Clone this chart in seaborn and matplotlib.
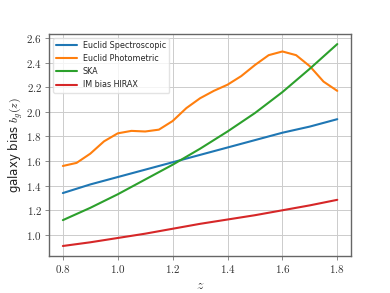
import pandas as pd
import matplotlib
import matplotlib.pyplot as plt
import seaborn as sns
from matplotlib.ticker import FuncFormatter

matplotlib.use('Agg')

# redshift grids
z_coarse = [0.8, 0.9, 1.0, 1.1, 1.2, 1.3, 1.4, 1.5, 1.6, 1.7, 1.8]
z_fine = [0.8, 0.85, 0.9, 0.95, 1.0, 1.05, 1.1, 1.15, 1.2, 1.25, 1.3,
          1.35, 1.4, 1.45, 1.5, 1.55, 1.6, 1.65, 1.7, 1.75, 1.8]

# bias values
b_euclid_spec = [1.34, 1.41, 1.47, 1.53, 1.59, 1.65, 1.71, 1.77, 1.83, 1.88, 1.94]
b_euclid_phot = [1.56, 1.585, 1.66, 1.76, 1.825, 1.845, 1.84, 1.855, 1.925, 2.03, 2.11,
                 2.17, 2.22, 2.29, 2.38, 2.46, 2.49, 2.46, 2.37, 2.245, 2.17]
b_ska = [1.12, 1.22, 1.33, 1.45, 1.57, 1.70, 1.84, 1.99, 2.16, 2.35, 2.55]
b_hirax = [0.91, 0.94, 0.975, 1.01, 1.05, 1.09, 1.125, 1.16, 1.20, 1.24, 1.285]

labels = ['Euclid Spectroscopic', 'Euclid Photometric', 'SKA', 'IM bias HIRAX']

frames = [
    pd.DataFrame({'z': z_coarse, 'b': b_euclid_spec, 'survey': labels[0]}),
    pd.DataFrame({'z': z_fine, 'b': b_euclid_phot, 'survey': labels[1]}),
    pd.DataFrame({'z': z_coarse, 'b': b_ska, 'survey': labels[2]}),
    pd.DataFrame({'z': z_coarse, 'b': b_hirax, 'survey': labels[3]}),
]
df = pd.concat(frames, ignore_index=True)

sns.set_style('whitegrid', {'grid.color': '#cccccc', 'axes.edgecolor': '#666666',
                            'xtick.bottom': True, 'ytick.left': True,
                            'xtick.color': '#777777', 'ytick.color': '#777777'})
plt.rcParams['mathtext.fontset'] = 'cm'
plt.rcParams['font.family'] = ['DejaVu Sans']

fig = plt.figure(figsize=(3.9, 2.93), dpi=100)
ax = fig.add_axes([0.126, 0.126, 0.774, 0.758])

sns.lineplot(data=df, x='z', y='b', hue='survey', hue_order=labels,
             palette=['#1f77b4', '#ff7f0e', '#2ca02c', '#d62728'],
             linewidth=1.5, ax=ax)

ax.set_xticks([0.8, 1.0, 1.2, 1.4, 1.6, 1.8])
ax.set_yticks([1.0, 1.2, 1.4, 1.6, 1.8, 2.0, 2.2, 2.4, 2.6])
fmt = FuncFormatter(lambda v, p: f'${v:.1f}$')
ax.xaxis.set_major_formatter(fmt)
ax.yaxis.set_major_formatter(fmt)
ax.tick_params(labelsize=8, labelcolor='#333333', length=3, width=0.6, pad=2)
for s in ax.spines.values():
    s.set_linewidth(1.0)
ax.grid(linewidth=0.7)

ax.set_xlabel('$z$', fontsize=10, color='#333333', labelpad=2)
ax.set_ylabel('galaxy bias $b_{g}(z)$', fontsize=8.5, color='#222222', labelpad=1)

leg = ax.legend(loc='upper left', fontsize=5.8, frameon=True, handlelength=2.5)
leg.get_frame().set_edgecolor('#dddddd')

plt.savefig('out.png', dpi=100)
